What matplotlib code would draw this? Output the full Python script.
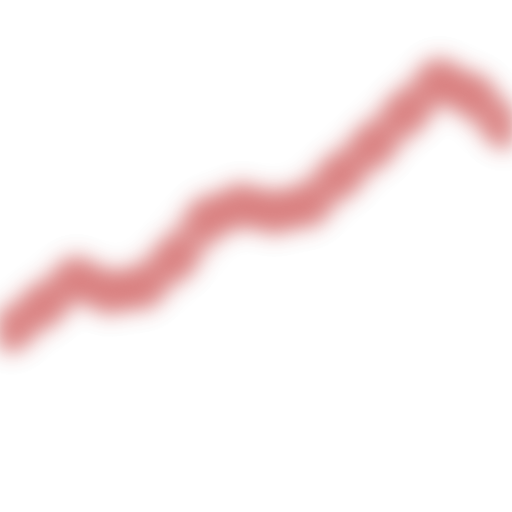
import matplotlib
matplotlib.use("Agg")
import matplotlib.pyplot as plt
import numpy as np

# values (pixel-ish units, bigger = higher)
steps = list(range(16))
values = [182, 207, 234, 220, 225, 254, 294, 307, 300, 307, 337, 367, 400, 432, 417, 385]


# gaussian blur used as an agg filter
def gauss_blur(img, dpi, sigma=11.0):
    pad = int(sigma * 3)
    h, w, _ = img.shape
    out = np.zeros((h + 2 * pad, w + 2 * pad, 4))
    out[pad:pad + h, pad:pad + w] = img
    r = np.arange(-pad, pad + 1)
    k = np.exp(-0.5 * (r / sigma) ** 2)
    k /= k.sum()
    # premultiply so colour does not bleed toward black
    rgb = out[..., :3] * out[..., 3:4]
    a = out[..., 3]
    for ax_ in (0, 1):
        rgb = np.apply_along_axis(lambda m: np.convolve(m, k, mode="same"), ax_, rgb)
        a = np.apply_along_axis(lambda m: np.convolve(m, k, mode="same"), ax_, a)
    res = np.zeros_like(out)
    safe = np.where(a > 1e-6, a, 1)
    res[..., :3] = rgb / safe[..., None]
    res[..., 3] = a
    return res, -pad, -pad


fig = plt.figure(figsize=(5.12, 5.12), dpi=100)
ax = fig.add_axes([0, 0, 1, 1])

# line and markers as separate artists so the markers show darker
line, = ax.plot(steps, values, color="#d46a6a", lw=27, alpha=0.68,
                solid_capstyle="round", solid_joinstyle="round")
pts, = ax.plot(steps, values, ls="none", color="#d05e5e", alpha=0.45,
               marker="o", markersize=30, markeredgewidth=0)
for art in (line, pts):
    art.set_agg_filter(gauss_blur)
    art.set_rasterized(True)

ax.set_xlim(-10 / 33, 15 + 7 / 33)
ax.set_ylim(0, 512)
ax.axis("off")

fig.savefig("out.png", dpi=100)
